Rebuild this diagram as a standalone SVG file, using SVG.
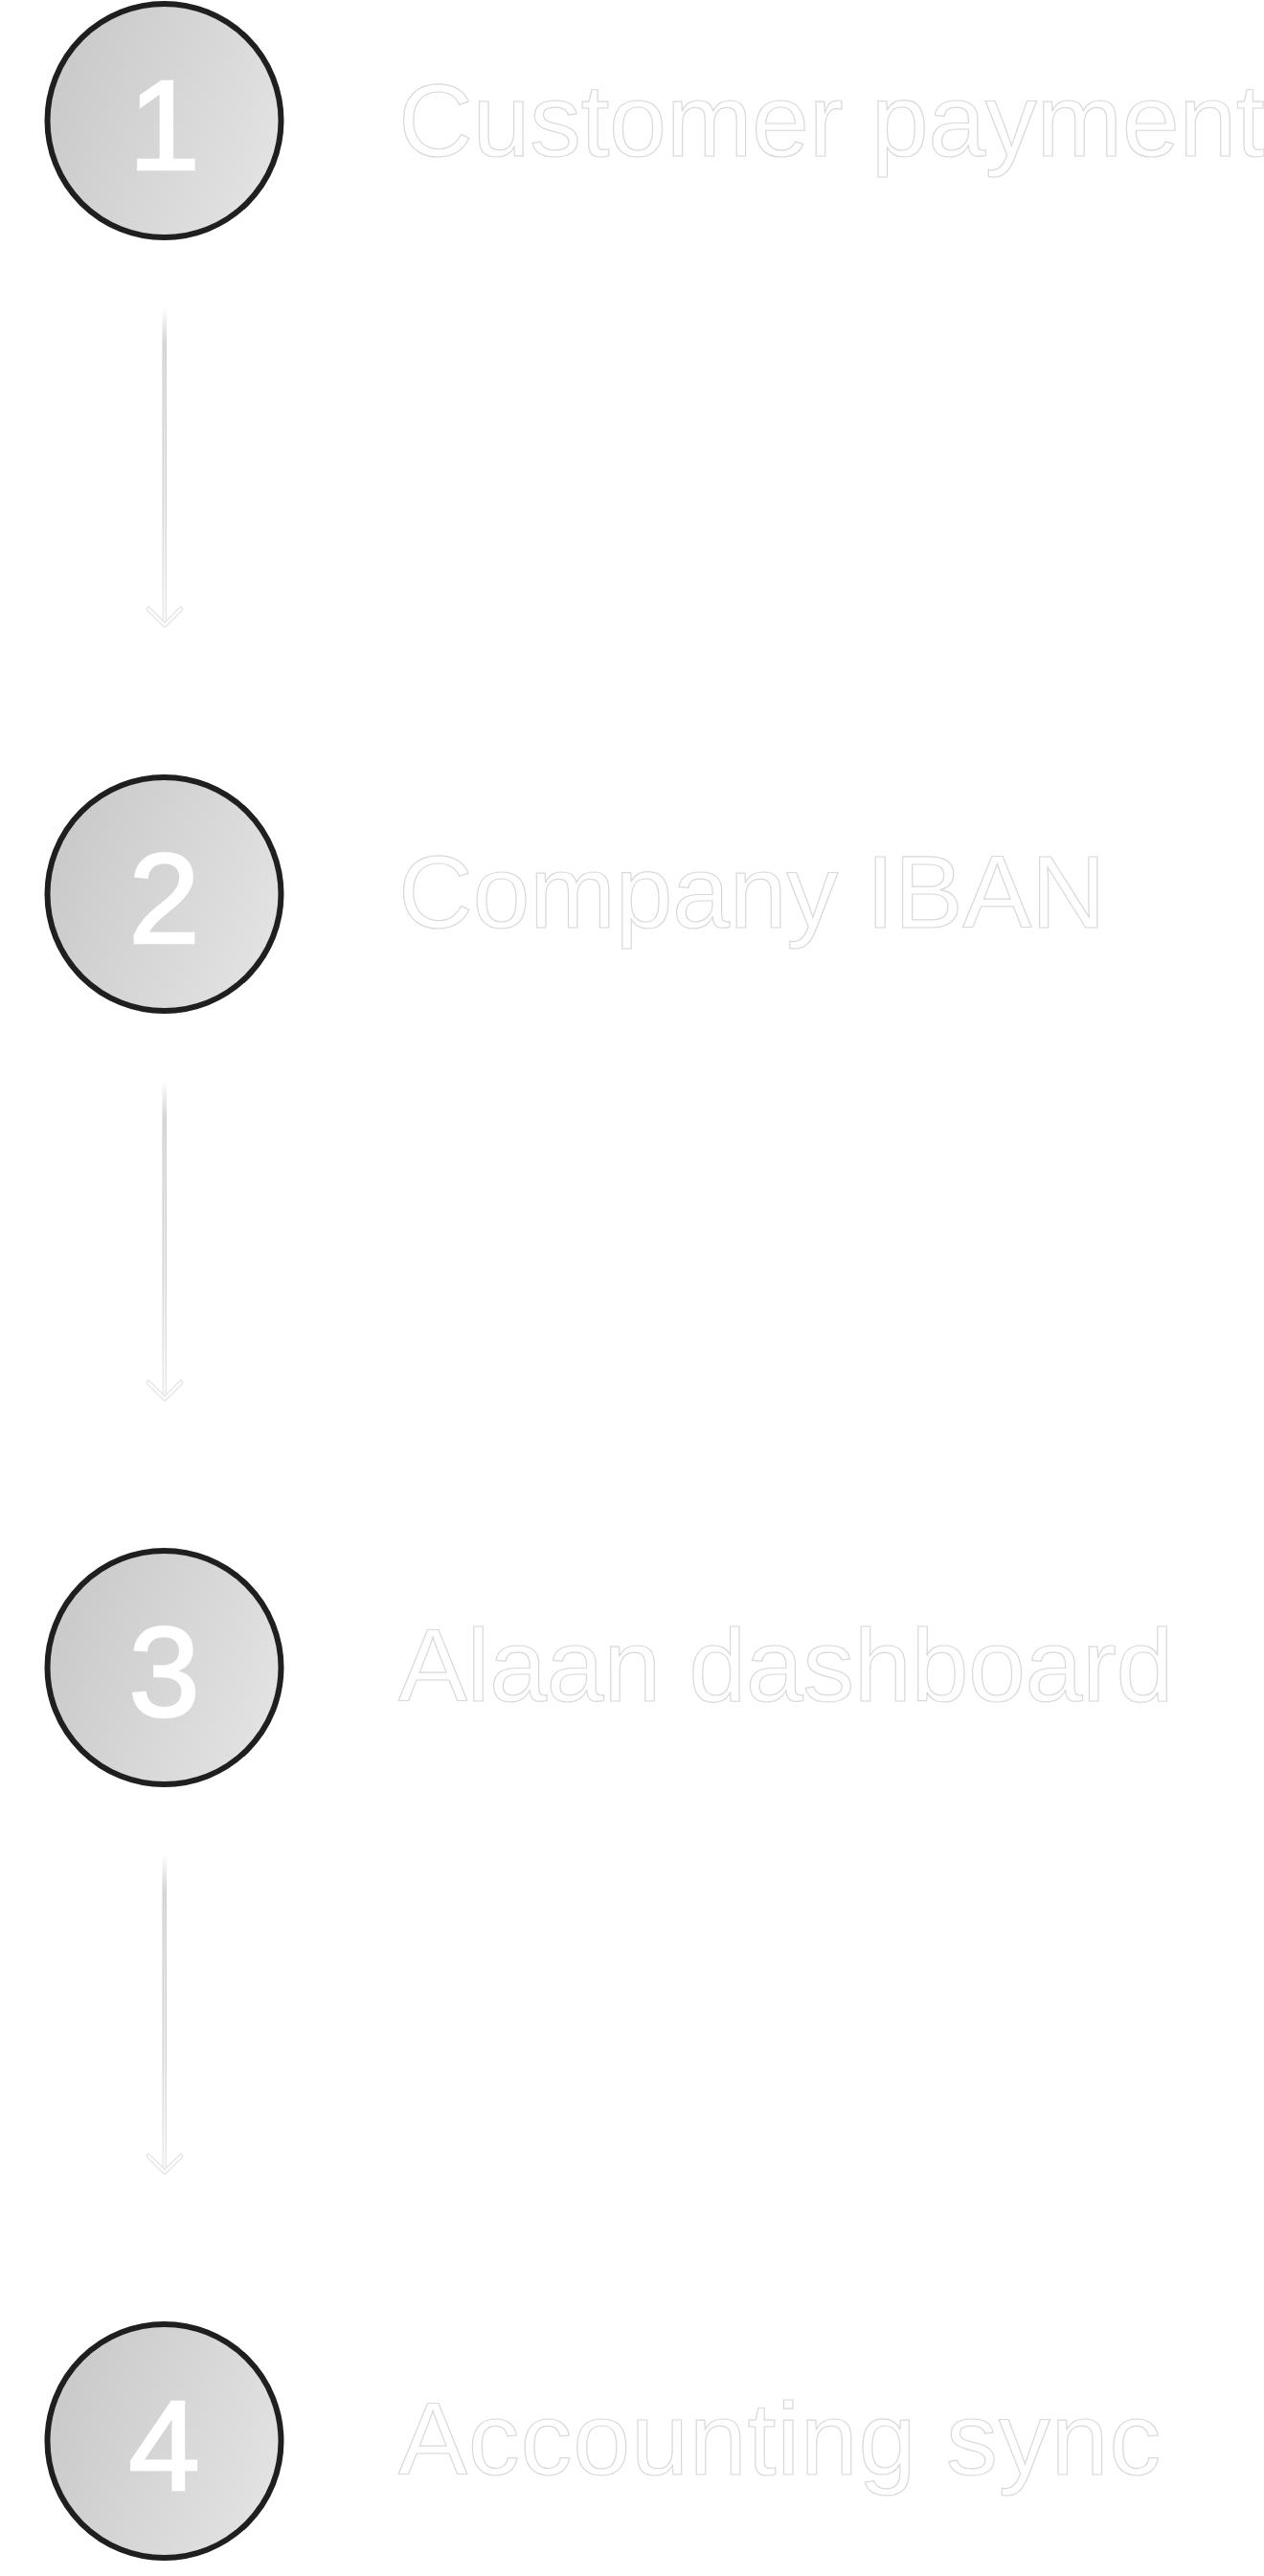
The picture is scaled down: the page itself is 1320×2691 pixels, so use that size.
<svg xmlns="http://www.w3.org/2000/svg" width="1320" height="2691" viewBox="0 0 1320 2691">
  <defs>
    <linearGradient id="discFill" x1="0" y1="0.3" x2="1" y2="0.7">
      <stop offset="0" stop-color="#c9c9c9"/>
      <stop offset="1" stop-color="#e3e3e3"/>
    </linearGradient>
    <linearGradient id="shaftFill" x1="0" y1="0" x2="0" y2="1">
      <stop offset="0" stop-color="#d4d4d4" stop-opacity="0"/>
      <stop offset="0.12" stop-color="#d0d0d0" stop-opacity="1"/>
      <stop offset="0.6" stop-color="#d6d6d6" stop-opacity="1"/>
      <stop offset="1" stop-color="#ebebeb" stop-opacity="1"/>
    </linearGradient>
    <linearGradient id="shaftCore" x1="0" y1="0" x2="0" y2="1">
      <stop offset="0" stop-color="#ffffff" stop-opacity="0"/>
      <stop offset="0.3" stop-color="#f4f4f4" stop-opacity="0.6"/>
      <stop offset="1" stop-color="#ffffff" stop-opacity="0.9"/>
    </linearGradient>
  </defs>
  <style>
    .disc { fill: url(#discFill); stroke: #1f1f1f; stroke-width: 6; }
    .num { font-family: "Liberation Sans", Arial, Helvetica, sans-serif; font-size: 134px; fill: #ffffff; stroke: #ffffff; stroke-width: 2.5; text-anchor: middle; }
    .title { font-family: "Liberation Sans", Arial, Helvetica, sans-serif; font-size: 108px; fill: #ffffff; stroke: #d9d9d9; stroke-width: 1.2; letter-spacing: -0.5px; }
    .wide { letter-spacing: 0.7px; }
    .shaft { fill: url(#shaftFill); }
    .core { fill: url(#shaftCore); }
    .headOuter { fill: none; stroke: #e2e2e2; stroke-width: 5; stroke-linecap: round; stroke-linejoin: round; }
    .headInner { fill: none; stroke: #ffffff; stroke-width: 2.5; stroke-linecap: round; stroke-linejoin: round; }
  </style>

  <g id="connectors">
    <g id="edge-1-2">
      <rect class="shaft" x="169.5" y="321" width="4.5" height="330"/>
      <rect class="core" x="171" y="321" width="1.5" height="330"/>
      <polyline class="headOuter" points="155,636 172,653 189,636"/>
      <polyline class="headInner" points="155,636 172,653 189,636"/>
    </g>
    <g id="edge-2-3">
      <rect class="shaft" x="169.5" y="1129" width="4.5" height="330"/>
      <rect class="core" x="171" y="1129" width="1.5" height="330"/>
      <polyline class="headOuter" points="155,1444 172,1461 189,1444"/>
      <polyline class="headInner" points="155,1444 172,1461 189,1444"/>
    </g>
    <g id="edge-3-4">
      <rect class="shaft" x="169.5" y="1937" width="4.5" height="330"/>
      <rect class="core" x="171" y="1937" width="1.5" height="330"/>
      <polyline class="headOuter" points="155,2252 172,2269 189,2252"/>
      <polyline class="headInner" points="155,2252 172,2269 189,2252"/>
    </g>
  </g>

  <g id="step-1">
    <circle class="disc" cx="171.5" cy="126" r="122"/>
    <text class="num" x="171.5" y="177">1</text>
    <text class="title" x="416" y="163">Customer payment</text>
  </g>
  <g id="step-2">
    <circle class="disc" cx="171.5" cy="934" r="122"/>
    <text class="num" x="171.5" y="985">2</text>
    <text class="title" x="416" y="969">Company IBAN</text>
  </g>
  <g id="step-3">
    <circle class="disc" cx="171.5" cy="1742" r="122"/>
    <text class="num" x="171.5" y="1793">3</text>
    <text class="title" x="416" y="1777">Alaan dashboard</text>
  </g>
  <g id="step-4">
    <circle class="disc" cx="171.5" cy="2550" r="122"/>
    <text class="num" x="171.5" y="2601">4</text>
    <text class="title wide" x="416" y="2585">Accounting sync</text>
  </g>
</svg>
